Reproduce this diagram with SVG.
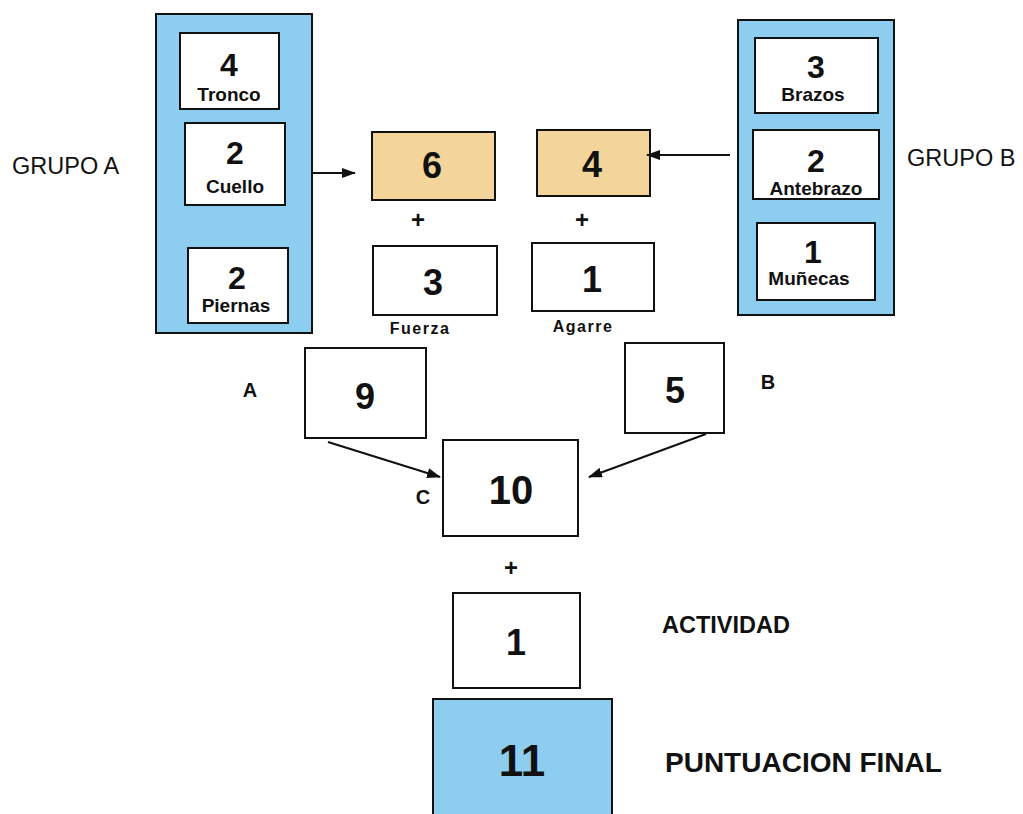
<svg xmlns="http://www.w3.org/2000/svg" width="1023" height="814" viewBox="0 0 1023 814">
<defs>
<style>
.box{fill:#fff;stroke:#111;stroke-width:2}
.blue{fill:#8DCDF0;stroke:#111;stroke-width:2}
.tan{fill:#F3D59B;stroke:#111;stroke-width:2}
text{font-family:"Liberation Sans",Arial,sans-serif;fill:#111;text-anchor:middle}
.n{font-weight:bold;font-size:32px}
.m{font-weight:bold;font-size:36px}
.l{font-weight:bold;font-size:19px}
.s{font-weight:bold;font-size:16px;letter-spacing:1.5px}
.g{font-size:23.5px;text-anchor:start}
.lb{font-weight:bold;font-size:20px}
.conn{stroke:#111;stroke-width:2;fill:none;marker-end:url(#ah)}
</style>
<marker id="ah" viewBox="0 0 14 10" refX="13" refY="5" markerWidth="14" markerHeight="10" orient="auto" markerUnits="userSpaceOnUse">
<path d="M0,0 L14,5 L0,10 z" fill="#111"/>
</marker>
</defs>
<rect width="1023" height="814" fill="#fff"/>

<g id="grupoA">
<rect class="blue" x="156" y="14" width="156" height="319"/>
<g id="tronco"><rect class="box" x="180" y="33" width="99" height="76"/><text class="n" x="229" y="76">4</text><text class="l" x="229" y="101">Tronco</text></g>
<g id="cuello"><rect class="box" x="185" y="123" width="100" height="82"/><text class="n" x="235" y="164">2</text><text class="l" x="235" y="193">Cuello</text></g>
<g id="piernas"><rect class="box" x="188" y="248" width="100" height="75"/><text class="n" x="237" y="289">2</text><text class="l" x="236" y="312">Piernas</text></g>
</g>
<text id="lblGrupoA" class="g" x="12" y="174">GRUPO A</text>

<g id="grupoB">
<rect class="blue" x="738" y="20" width="156" height="295"/>
<g id="brazos"><rect class="box" x="755" y="38" width="123" height="75"/><text class="n" x="816" y="78">3</text><text class="l" x="813" y="101">Brazos</text></g>
<g id="antebrazo"><rect class="box" x="753" y="130" width="126" height="69"/><text class="n" x="816" y="172">2</text><text class="l" x="816" y="195">Antebrazo</text></g>
<g id="munecas"><rect class="box" x="757" y="223" width="118" height="77"/><text class="n" x="813" y="263">1</text><text class="l" x="809" y="285">Muñecas</text></g>
</g>
<text id="lblGrupoB" class="g" x="907" y="166">GRUPO B</text>

<g id="nodeA6"><rect class="tan" x="372" y="132" width="123" height="68"/><text class="m" x="432" y="178">6</text></g>
<g id="nodeB4"><rect class="tan" x="537" y="130" width="113" height="66"/><text class="m" x="592" y="177">4</text></g>
<text x="418" y="228" style="font-size:24px;font-weight:bold">+</text>
<text x="582" y="228" style="font-size:24px;font-weight:bold">+</text>
<g id="fuerza"><rect class="box" x="373" y="246" width="124" height="69"/><text class="m" x="433" y="295">3</text><text class="s" x="420" y="334">Fuerza</text></g>
<g id="agarre"><rect class="box" x="532" y="243" width="122" height="68"/><text class="m" x="592" y="292">1</text><text class="s" x="583" y="332">Agarre</text></g>

<g id="nodeA9"><rect class="box" x="305" y="348" width="121" height="90"/><text class="m" x="365" y="409">9</text></g>
<text class="lb" x="250" y="397">A</text>
<g id="nodeB5"><rect class="box" x="625" y="343" width="99" height="90"/><text class="m" x="675" y="403">5</text></g>
<text class="lb" x="768" y="389">B</text>
<g id="nodeC10"><rect class="box" x="443" y="440" width="135" height="96"/><text class="m" x="511" y="504" style="font-size:40px">10</text></g>
<text class="lb" x="423" y="504">C</text>

<text x="511" y="576" style="font-size:24px;font-weight:bold">+</text>
<g id="actividad"><rect class="box" x="453" y="593" width="127" height="95"/><text class="m" x="516" y="655">1</text></g>
<text x="662" y="633" style="font-size:23.5px;font-weight:bold;text-anchor:start">ACTIVIDAD</text>

<g id="final"><rect class="blue" x="433" y="699" width="179" height="120"/><text x="522" y="776" style="font-size:44px;font-weight:bold">11</text></g>
<text x="665" y="772" style="font-size:28px;font-weight:bold;text-anchor:start">PUNTUACION FINAL</text>

<g id="connectors">
<path class="conn" d="M312,173 L355,173"/>
<path class="conn" d="M730,155 L647,155"/>
<path class="conn" d="M328,442 L440,477"/>
<path class="conn" d="M706,434 L589,477"/>
</g>
</svg>
